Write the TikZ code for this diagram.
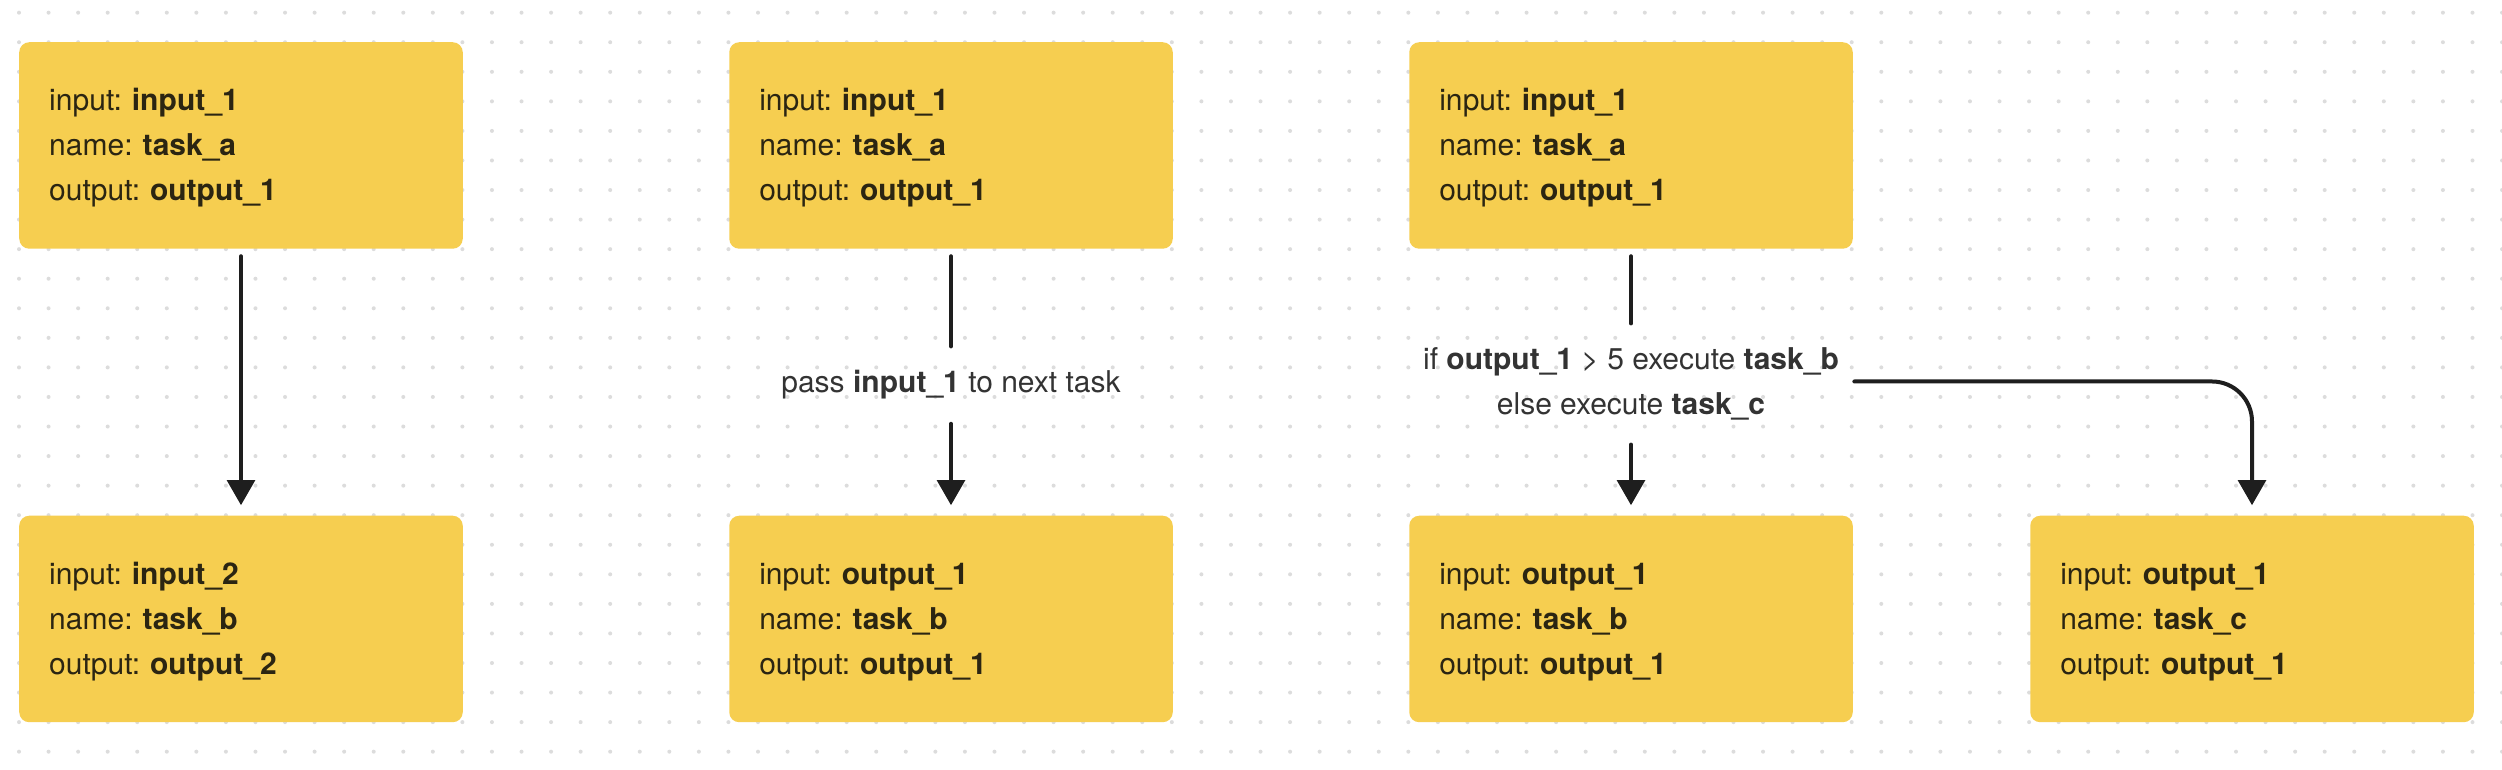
\documentclass[tikz,border=0pt]{standalone}
\usepackage{fontspec}
\setmainfont{TeX Gyre Heros}
\usetikzlibrary{arrows.meta}

\definecolor{taskfill}{HTML}{F6CE50}
\definecolor{ink}{HTML}{1E1E1E}
\definecolor{tasktext}{HTML}{2B2512}
\definecolor{labeltext}{HTML}{333333}
\definecolor{griddot}{HTML}{DCDCDC}

\begin{document}
\begin{tikzpicture}[x=0.4pt, y=0.4pt,
        task/.style={rectangle, rounded corners=4pt, fill=taskfill, draw=none,
            minimum width=177.4pt, minimum height=82.6pt, text width=153.4pt,
            inner xsep=12pt, inner ysep=0pt, align=left, text=tasktext,
            font=\fontsize{12}{18}\selectfont\frenchspacing,
            execute at begin node=\rule{0pt}{11pt}},
        cond/.style={inner xsep=6pt, inner ysep=9.5pt, align=center, text=labeltext,
            font=\fontsize{12}{18}\selectfont\frenchspacing},
        link/.style={line width=1.6pt, draw=ink, line cap=round, shorten <=2.8pt},
        flow/.style={link, -{Triangle[width=11pt,length=10pt]}, shorten >=4pt}]

            \useasboundingbox (0,0) rectangle (2502,770);
            \fill[white] (0,0) rectangle (2502,770);

            % dot grid
            \foreach \i in {0,...,84}
                \foreach \j in {0,...,25}
                    \fill[griddot] (19+29.56*\i, 757.3-29.56*\j) circle (0.8pt);

            % plain chain
            \node[task] (a1) at (241, 624.5) {input: \textbf{input\_1}\\ name: \textbf{task\_a}\\ output: \textbf{output\_1}};
            \node[task] (b1) at (241, 151)   {input: \textbf{input\_2}\\ name: \textbf{task\_b}\\ output: \textbf{output\_2}};

            % passing the input on
            \node[task] (a2) at (951, 624.5) {input: \textbf{input\_1}\\ name: \textbf{task\_a}\\ output: \textbf{output\_1}};
            \node[task] (b2) at (951, 151)   {input: \textbf{output\_1}\\ name: \textbf{task\_b}\\ output: \textbf{output\_1}};
            \node[cond, anchor=base] (lbl2) at (951, 377) {pass \textbf{input\_1} to next task};

            % branching
            \node[task] (a3) at (1631, 624.5) {input: \textbf{input\_1}\\ name: \textbf{task\_a}\\ output: \textbf{output\_1}};
            \node[task] (b3) at (1631, 151)   {input: \textbf{output\_1}\\ name: \textbf{task\_b}\\ output: \textbf{output\_1}};
            \node[task] (c3) at (2252, 151)   {input: \textbf{output\_1}\\ name: \textbf{task\_c}\\ output: \textbf{output\_1}};
            \node[cond, minimum width=177.6pt] (lbl3) at (1631, 386)
                {if \textbf{output\_1} > 5 execute \textbf{task\_b}\\ else execute \textbf{task\_c}};

            \draw[flow] (a1) -- (b1);

            \draw[link] (a2) -- (lbl2);
            \draw[flow, shorten <=0pt] (lbl2) -- (b2);

            \draw[link] (a3) -- (lbl3);
            \draw[flow, shorten <=0pt] (lbl3) -- (b3);
            \draw[flow, shorten <=0pt, rounded corners=16pt] ([yshift=1pt]lbl3.east) -| (c3.north);
        \end{tikzpicture}
\end{document}
